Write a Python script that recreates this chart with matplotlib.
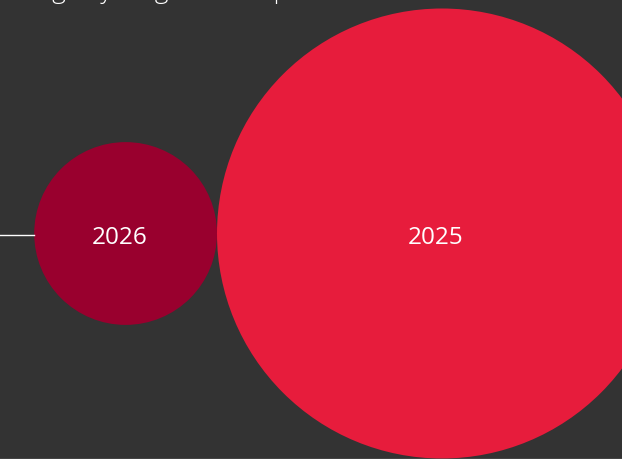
import numpy as np
import matplotlib
matplotlib.use("Agg")
import matplotlib.pyplot as plt
from matplotlib.patches import Circle

# bubble data (area ~ value)
years = ["2025", "2026"]
values = [100.0, 16.5]
colors = ["#E71C3C", "#99002E"]

bg = "#333333"
plt.rcParams["font.family"] = ["Open Sans", "DejaVu Sans"]

fig = plt.figure(figsize=(6.22, 4.59), dpi=100, facecolor=bg)
ax = fig.add_axes([0, 0, 1, 1])
ax.set_facecolor(bg)
ax.set_xlim(0, 622)
ax.set_ylim(459, 0)
ax.axis("off")

# size bubbles by sqrt of value, largest one fixed
max_r = 225
radii = [max_r * np.sqrt(v / max(values)) for v in values]

# big bubble on the right, smaller ones packed to its left
cy = 233.5
cx = 442
centers = []
for i, r in enumerate(radii):
    if i == 0:
        centers.append(cx)
    else:
        centers.append(centers[i - 1] - radii[i - 1] - r)

for yr, r, x, c in zip(years, radii, centers, colors):
    ax.add_patch(Circle((x, cy), r, facecolor=c, edgecolor="none"))
    ax.text(x - 6, cy + 4, yr, color="white", fontsize=17.5,
            ha="center", va="center")

# connector line to smallest bubble
ax.plot([0, centers[-1] - radii[-1]], [cy + 1, cy + 1], color="white", lw=1)

# title, mostly cut off at the top (only descenders show)
ax.text(-10, -2, "Savings by stage in Europe", color="white", fontsize=19,
        ha="left", va="baseline", fontweight="light")

# thin grey rule at bottom
ax.axhline(458.5, color="#8a8a8a", lw=1)

fig.savefig("out.png", dpi=100, facecolor=bg)
